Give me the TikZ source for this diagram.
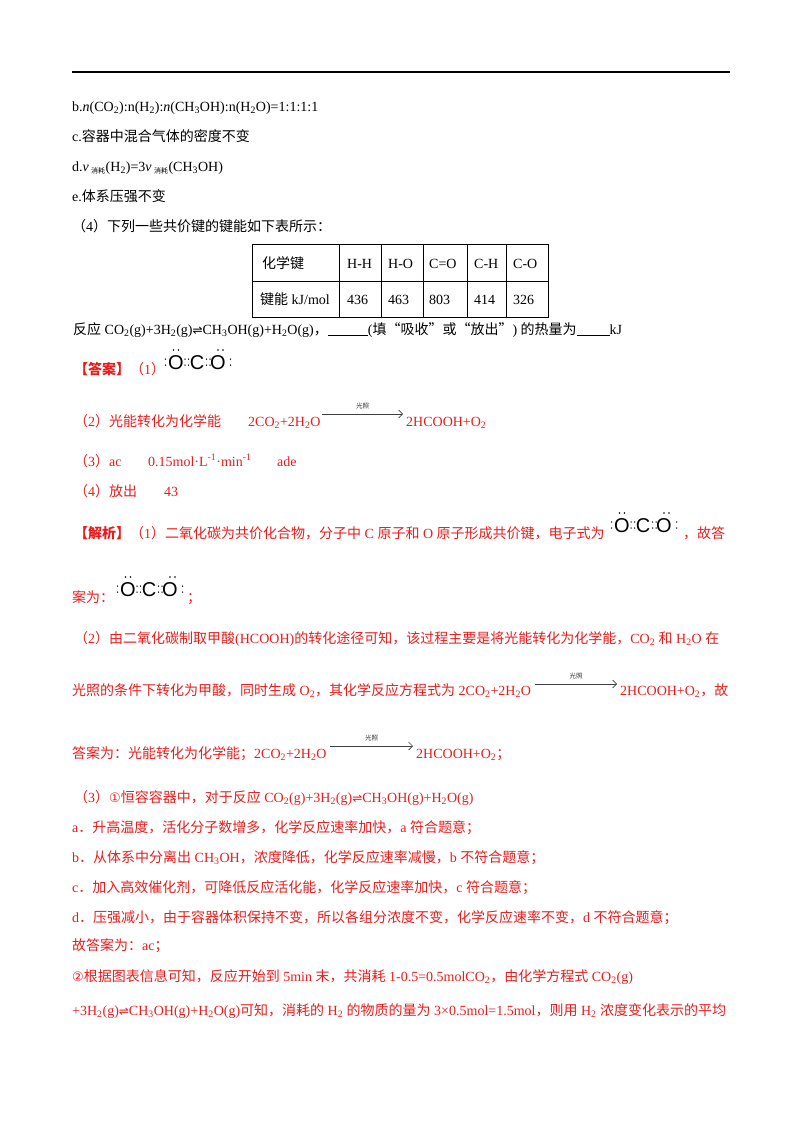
\documentclass[tikz,border=0pt]{standalone}
\usetikzlibrary{arrows.meta}
\usepackage{fontspec}
\setmainfont{Liberation Serif}
\newfontfamily\cjk{Noto Sans CJK SC}
\newfontfamily\dv{DejaVu Sans}
\newfontfamily\lsans{Liberation Sans}
\XeTeXinterchartokenstate=1
\newXeTeXintercharclass\CJKcls
\count255="4E00 \loop \XeTeXcharclass\count255=\CJKcls \advance\count255 by 1 \ifnum\count255<"A000 \repeat
\count255="3000 \loop \XeTeXcharclass\count255=\CJKcls \advance\count255 by 1 \ifnum\count255<"3040 \repeat
\count255="FF00 \loop \XeTeXcharclass\count255=\CJKcls \advance\count255 by 1 \ifnum\count255<"FFF0 \repeat
\XeTeXcharclass"201C=\CJKcls \XeTeXcharclass"201D=\CJKcls
\XeTeXinterchartoks 0 \CJKcls = {\cjk}
\XeTeXinterchartoks 4095 \CJKcls = {\cjk}
\XeTeXinterchartoks \CJKcls 0 = {\rmfamily}
\XeTeXinterchartoks \CJKcls 4095 = {\rmfamily}
\newcommand\s[1]{\textsubscript{#1}}
\newcommand\pp[1]{\textsuperscript{#1}}
\newcommand\eq{{\dv\fontsize{12}{12}\selectfont ⇌}}
\newcommand\cir[1]{{\dv\fontsize{13}{13}\selectfont #1}}
\definecolor{ans}{RGB}{232,28,28}
\tikzset{
  t/.style={anchor=base west,inner sep=0,font=\fontsize{14}{16}\selectfont},
  r/.style={t,text=ans},
  rxn/.style={-{Straight Barb[length=4pt]},line width=0.6pt,black!75},
  gz/.style={midway,above=1pt,font=\cjk\fontsize{6.5}{6.5}\selectfont,black!80},
  pics/cotwo/.style={code={
    \node[anchor=base west,inner sep=0,font=\lsans\fontsize{20}{20}\selectfont] at (0,0) {O\hspace{6pt}C\hspace{6pt}O};
    \foreach \x in {-2.5,17,20.5,38.5,42,62.5}{
      \fill (\x,-4) circle (0.75); \fill (\x,-10) circle (0.75);}
    \foreach \x in {5.5,10.5,50,55}{\fill (\x,-19) circle (0.8);}
  }}
}
\begin{document}
\begin{tikzpicture}[x=1pt,y=-1pt]
\useasboundingbox (0,0) rectangle (800,1132);
\draw[line width=1.6pt] (72,72) -- (730,72);
\node[t] (l1) at (72,111) {b.\textit{n}(CO\s2):n(H\s2):\textit{n}(CH\s3OH):n(H\s2O)=1:1:1:1};
\node[t] (l2) at (72,141) {c.容器中混合气体的密度不变};
\node[t] (l3) at (72,171) {d.\textit{v}\,\textsubscript{\fontsize{7}{7}\selectfont 消耗}(H\s2)=3\textit{v}\,\textsubscript{\fontsize{7}{7}\selectfont 消耗}(CH\s3OH)};
\node[t] (l4) at (72,201) {e.体系压强不变};
\node[t] (l5) at (72,231) {（4）下列一些共价键的键能如下表所示：};
% table
\draw[line width=0.6pt] (252,244) rectangle (548,317);
\draw[line width=0.6pt] (252,281) -- (548,281);
\foreach \x in {339,381,423,467,506}{\draw[line width=0.6pt] (\x,244) -- (\x,317);}
\node[t] (h0) at (262,268) {化学键};
\node[t] (h1) at (347,268) {H-H};
\node[t] (h2) at (388,268) {H-O};
\node[t] (h3) at (429,268) {C=O};
\node[t] (h4) at (474,268) {C-H};
\node[t] (h5) at (513,268) {C-O};
\node[t] (v0) at (260,304) {键能 kJ/mol};
\node[t] (v1) at (347,304) {436};
\node[t] (v2) at (388,304) {463};
\node[t] (v3) at (429,304) {803};
\node[t] (v4) at (474,304) {414};
\node[t] (v5) at (513,304) {326};
\node[t] (l6) at (73,334) {反应 CO\s2(g)+3H\s2(g)\eq CH\s3OH(g)+H\s2O(g)，\underline{\hspace{40pt}}(填“吸收”或“放出”) 的热量为\underline{\hspace{33pt}}kJ};
\node[r] (a1) at (74,374) {\textbf{【答案】}（1）};
\pic at (168,369) {cotwo};
\node[r] (a2) at (74,426) {（2）光能转化为化学能};
\node[r] (a2b) at (248,426) {2CO\s2+2H\s2O};
\coordinate (a2s) at (322,414);
\coordinate (a2e) at (403,414);
\draw[rxn] (a2s) -- (a2e) node[gz] {光照};
\node[r] (a2c) at (406,426) {2HCOOH+O\s2};
\node[r] (a3) at (74,466) {（3）ac};
\node[r] (a3b) at (148,466) {0.15mol·L\pp{-1}·min\pp{-1}};
\node[r] (a3c) at (277,466) {ade};
\node[r] (a4) at (74,496) {（4）放出};
\node[r] (a4b) at (164,496) {43};
\node[r] (j1) at (74,538) {\textbf{【解析】}（1）二氧化碳为共价化合物，分子中 C 原子和 O 原子形成共价键，电子式为};
\pic at (614,532) {cotwo};
\node[r] (j1b) at (683,538) {，故答};
\node[r] (j2) at (72,602) {案为：};
\pic at (120,596) {cotwo};
\node[r] (j2b) at (187,602) {；};
\node[r] (j3) at (74,643) {（2）由二氧化碳制取甲酸(HCOOH)的转化途径可知，该过程主要是将光能转化为化学能，CO\s2 和 H\s2O 在};
\node[r] (j4) at (72,695) {光照的条件下转化为甲酸，同时生成 O\s2，其化学反应方程式为 2CO\s2+2H\s2O};
\coordinate (j4s) at (535,684);
\coordinate (j4e) at (617,684);
\draw[rxn] (j4s) -- (j4e) node[gz] {光照};
\node[r] (j4b) at (620,695) {2HCOOH+O\s2，故};
\node[r] (j5) at (72,758) {答案为：光能转化为化学能；2CO\s2+2H\s2O};
\coordinate (j5s) at (330,746);
\coordinate (j5e) at (413,746);
\draw[rxn] (j5s) -- (j5e) node[gz] {光照};
\node[r] (j5b) at (416,758) {2HCOOH+O\s2；};
\node[r] (k1) at (74,802) {（3）\cir{①}恒容容器中，对于反应 CO\s2(g)+3H\s2(g)\eq CH\s3OH(g)+H\s2O(g)};
\node[r] (k2) at (72,832) {a．升高温度，活化分子数增多，化学反应速率加快，a 符合题意；};
\node[r] (k3) at (72,862) {b．从体系中分离出 CH\s3OH，浓度降低，化学反应速率减慢，b 不符合题意；};
\node[r] (k4) at (72,892) {c．加入高效催化剂，可降低反应活化能，化学反应速率加快，c 符合题意；};
\node[r] (k5) at (72,922) {d．压强减小，由于容器体积保持不变，所以各组分浓度不变，化学反应速率不变，d 不符合题意；};
\node[r] (k6) at (72,950) {故答案为：ac；};
\node[r] (k7) at (72,981) {\cir{②}根据图表信息可知，反应开始到 5min 末，共消耗 1-0.5=0.5molCO\s2，由化学方程式 CO\s2(g)};
\node[r] (k8) at (72,1015) {+3H\s2(g)\eq CH\s3OH(g)+H\s2O(g)可知，消耗的 H\s2 的物质的量为 3×0.5mol=1.5mol，则用 H\s2 浓度变化表示的平均};
\end{tikzpicture}
\end{document}
